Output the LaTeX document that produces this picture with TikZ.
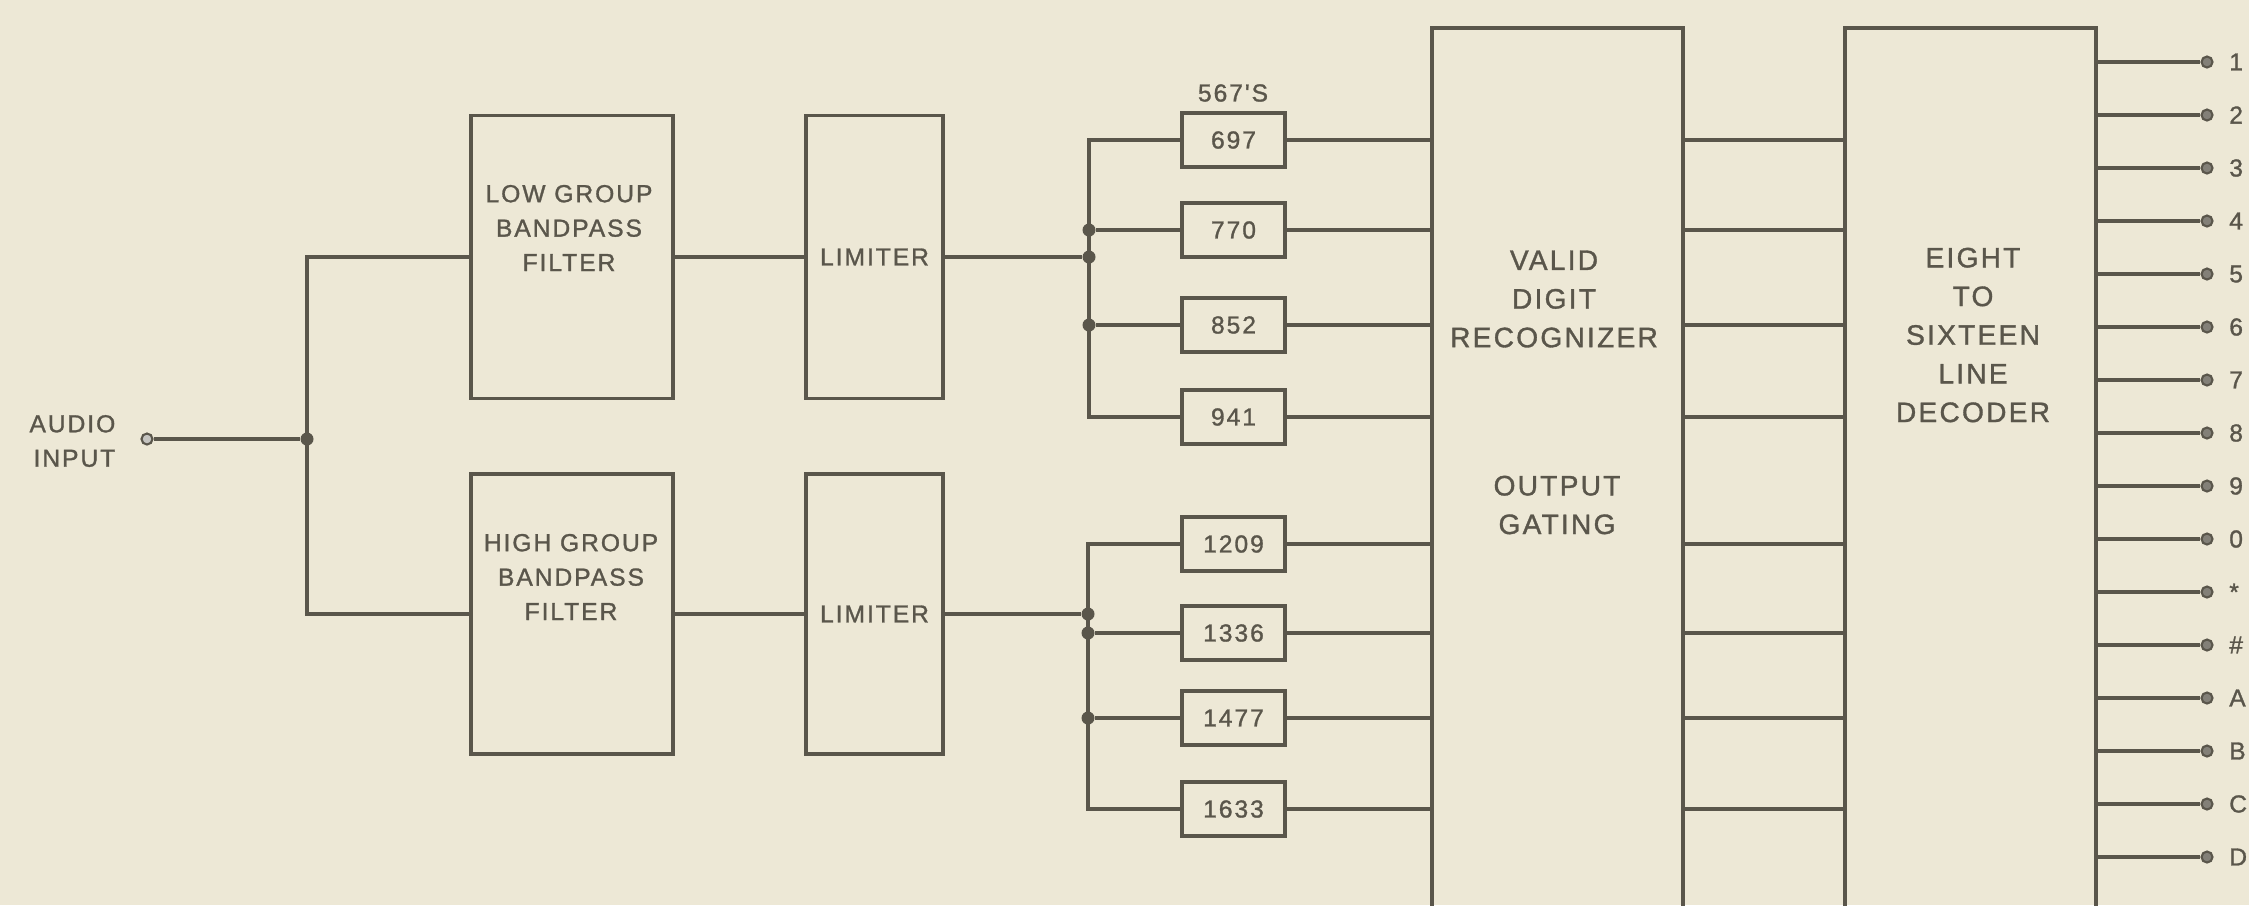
\documentclass[tikz,border=0pt]{standalone}
\usepackage{fontspec}
\newfontfamily\lettering[LetterSpace=8,FakeBold=1.2]{Liberation Sans}
\definecolor{paper}{HTML}{EDE8D6}
\definecolor{ink}{HTML}{5A564B}
\tikzset{
  blk/.style={rectangle, draw=ink, line width=0.9pt, inner sep=0pt},
  tone/.style={rectangle, draw=ink, line width=0.9pt, inner sep=0pt, minimum width=1.03cm,
               minimum height=0.54cm, text=ink, font=\lettering\fontsize{7}{9.8}\selectfont},
  lbl/.style={align=center, inner sep=0pt, text=ink, font=\lettering\fontsize{7}{9.8}\selectfont},
  bigl/.style={align=center, inner sep=0pt, text=ink, font=\lettering\fontsize{8}{11}\selectfont},
  wire/.style={draw=ink, line width=0.9pt},
  jdot/.style={circle, fill=ink, inner sep=0pt, minimum size=1.3mm},
  term/.style={circle, draw=ink, fill=ink!75, line width=0.6pt, inner sep=0pt, minimum size=1.1mm},
  outl/.style={lbl, label distance=1.5mm},
}

\begin{document}
\begin{tikzpicture}
\useasboundingbox (0,0) rectangle (22.49,-9.05);
\fill[paper] (0,0) rectangle (22.49,-9.05);

% input and filters
\node[lbl, align=right, anchor=east] (audio) at (1.16,-4.41) {AUDIO\\INPUT};
\node[term, fill=ink!35] (in) at (1.47,-4.39) {};
\node[jdot] (split) at (3.07,-4.39) {};

\node[blk, minimum width=2.02cm, minimum height=2.83cm] (lowbpf) at (5.72,-2.57) {};
\node[lbl] (lowtxt) at (5.69,-2.28) {LOW GROUP\\BANDPASS\\FILTER};
\node[blk, minimum width=2.02cm, minimum height=2.80cm] (highbpf) at (5.72,-6.14) {};
\node[lbl] (hightxt) at (5.71,-5.77) {HIGH GROUP\\BANDPASS\\FILTER};

\node[blk, minimum width=1.37cm, minimum height=2.83cm, lbl] (lowlim) at (8.745,-2.57) {LIMITER};
\node[blk, minimum width=1.37cm, minimum height=2.80cm, lbl] (highlim) at (8.745,-6.14) {LIMITER};

\draw[wire] (in) -- (split);
\draw[wire] (split.center) |- (lowbpf.west);
\draw[wire] (split.center) |- (highbpf.west);
\draw[wire] (lowbpf.east) -- (lowlim.west);
\draw[wire] (highbpf.east) -- (highlim.west);

% tone decoders
\node[lbl] (ics) at (12.33,-0.93) {567'S};
\node[tone] (t697) at (12.335,-1.40) {697};
\node[tone] (t770) at (12.335,-2.30) {770};
\node[tone] (t852) at (12.335,-3.25) {852};
\node[tone] (t941) at (12.335,-4.17) {941};
\node[tone] (t1209) at (12.335,-5.44) {1209};
\node[tone] (t1336) at (12.335,-6.33) {1336};
\node[tone] (t1477) at (12.335,-7.18) {1477};
\node[tone] (t1633) at (12.335,-8.09) {1633};

\node[jdot] (jlow) at (10.89,-2.57) {};
\node[jdot] (j770) at (t770.west -| jlow) {};
\node[jdot] (j852) at (t852.west -| jlow) {};
\node[jdot] (jhigh) at (10.88,-6.14) {};
\node[jdot] (j1336) at (t1336.west -| jhigh) {};
\node[jdot] (j1477) at (t1477.west -| jhigh) {};

\draw[wire] (lowlim.east) -- (jlow);
\draw[wire] (t697.west) -| (jlow.center) |- (t941.west);
\draw[wire] (j770) -- (t770.west);
\draw[wire] (j852) -- (t852.west);
\draw[wire] (highlim.east) -- (jhigh);
\draw[wire] (t1209.west) -| (jhigh.center) |- (t1633.west);
\draw[wire] (j1336) -- (t1336.west);
\draw[wire] (j1477) -- (t1477.west);

% recognizer and decoder
\node[blk, minimum width=2.51cm, minimum height=8.92cm] (vdr) at (15.575,-4.74) {};
\node[bigl] (vdrtxt) at (15.54,-2.99) {VALID\\DIGIT\\RECOGNIZER};
\node[bigl] (gatetxt) at (15.57,-5.05) {OUTPUT\\GATING};
\node[blk, minimum width=2.51cm, minimum height=8.92cm] (dec) at (19.705,-4.74) {};
\node[bigl] (dectxt) at (19.73,-3.35) {EIGHT\\TO\\SIXTEEN\\LINE\\DECODER};

\draw[wire] (t697) -- (vdr.west |- t697);
\draw[wire] (t770) -- (vdr.west |- t770);
\draw[wire] (t852) -- (vdr.west |- t852);
\draw[wire] (t941) -- (vdr.west |- t941);
\draw[wire] (t1209) -- (vdr.west |- t1209);
\draw[wire] (t1336) -- (vdr.west |- t1336);
\draw[wire] (t1477) -- (vdr.west |- t1477);
\draw[wire] (t1633) -- (vdr.west |- t1633);

\draw[wire] (vdr.east |- t697) -- (dec.west |- t697);
\draw[wire] (vdr.east |- t770) -- (dec.west |- t770);
\draw[wire] (vdr.east |- t852) -- (dec.west |- t852);
\draw[wire] (vdr.east |- t941) -- (dec.west |- t941);
\draw[wire] (vdr.east |- t1209) -- (dec.west |- t1209);
\draw[wire] (vdr.east |- t1336) -- (dec.west |- t1336);
\draw[wire] (vdr.east |- t1477) -- (dec.west |- t1477);
\draw[wire] (vdr.east |- t1633) -- (dec.west |- t1633);

% sixteen outputs
\node[term, label={[outl]right:1}] (o1) at (22.07,-0.62) {};
\node[term, label={[outl]right:2}] (o2) at (22.07,-1.15) {};
\node[term, label={[outl]right:3}] (o3) at (22.07,-1.68) {};
\node[term, label={[outl]right:4}] (o4) at (22.07,-2.21) {};
\node[term, label={[outl]right:5}] (o5) at (22.07,-2.74) {};
\node[term, label={[outl]right:6}] (o6) at (22.07,-3.27) {};
\node[term, label={[outl]right:7}] (o7) at (22.07,-3.80) {};
\node[term, label={[outl]right:8}] (o8) at (22.07,-4.33) {};
\node[term, label={[outl]right:9}] (o9) at (22.07,-4.86) {};
\node[term, label={[outl]right:0}] (o10) at (22.07,-5.39) {};
\node[term, label={[outl]right:*}] (o11) at (22.07,-5.92) {};
\node[term, label={[outl]right:\#}] (o12) at (22.07,-6.45) {};
\node[term, label={[outl]right:A}] (o13) at (22.07,-6.98) {};
\node[term, label={[outl]right:B}] (o14) at (22.07,-7.51) {};
\node[term, label={[outl]right:C}] (o15) at (22.07,-8.04) {};
\node[term, label={[outl]right:D}] (o16) at (22.07,-8.57) {};

\draw[wire] (dec.east |- o1) -- (o1);
\draw[wire] (dec.east |- o2) -- (o2);
\draw[wire] (dec.east |- o3) -- (o3);
\draw[wire] (dec.east |- o4) -- (o4);
\draw[wire] (dec.east |- o5) -- (o5);
\draw[wire] (dec.east |- o6) -- (o6);
\draw[wire] (dec.east |- o7) -- (o7);
\draw[wire] (dec.east |- o8) -- (o8);
\draw[wire] (dec.east |- o9) -- (o9);
\draw[wire] (dec.east |- o10) -- (o10);
\draw[wire] (dec.east |- o11) -- (o11);
\draw[wire] (dec.east |- o12) -- (o12);
\draw[wire] (dec.east |- o13) -- (o13);
\draw[wire] (dec.east |- o14) -- (o14);
\draw[wire] (dec.east |- o15) -- (o15);
\draw[wire] (dec.east |- o16) -- (o16);
\end{tikzpicture}
\end{document}
